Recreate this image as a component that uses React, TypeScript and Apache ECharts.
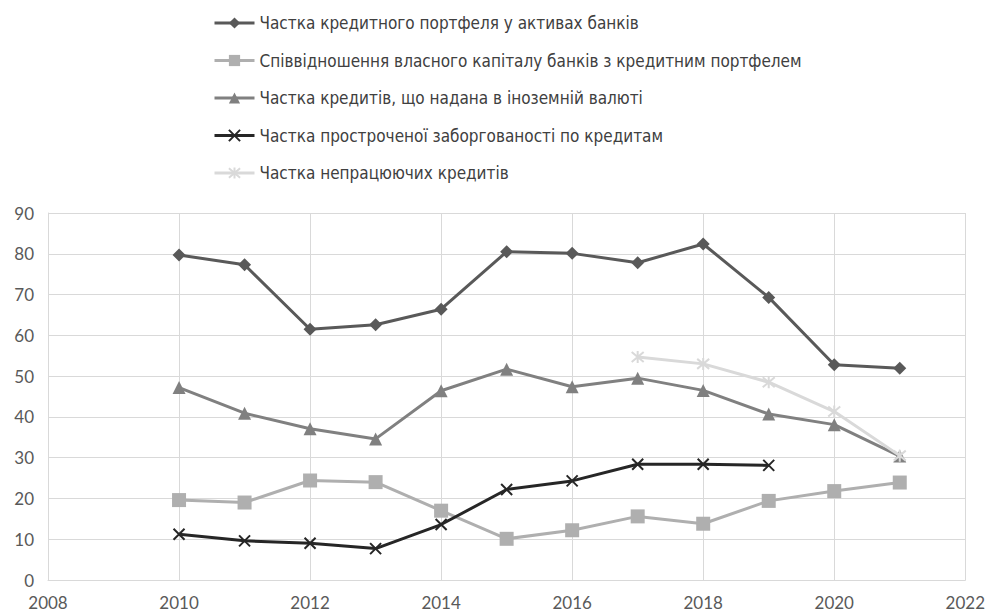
import React, { useEffect, useRef } from "react";
import * as echarts from "echarts";

const years = [2010, 2011, 2012, 2013, 2014, 2015, 2016, 2017, 2018, 2019, 2020, 2021];
const loanShare = [79.7, 77.3, 61.5, 62.6, 66.4, 80.5, 80.1, 77.8, 82.4, 69.3, 52.8, 51.9];
const capitalRatio = [19.6, 19.0, 24.4, 24.0, 17.0, 10.1, 12.2, 15.6, 13.8, 19.4, 21.8, 23.9];
const fxShare = [47.2, 40.9, 37.1, 34.6, 46.4, 51.7, 47.4, 49.5, 46.5, 40.7, 38.1, 30.4];
const overdueShare = [11.2, 9.6, 9.0, 7.7, 13.6, 22.2, 24.3, 28.4, 28.4, 28.1, null, null];
const nplShare = [null, null, null, null, null, null, null, 54.7, 53.0, 48.5, 41.3, 30.5];

const seriesNames = [
  "Частка кредитного портфеля у активах банків",
  "Співвідношення власного капіталу банків з кредитним портфелем",
  "Частка кредитів, що надана в іноземній валюті",
  "Частка простроченої заборгованості по кредитам",
  "Частка непрацюючих кредитів",
];

const xTicks = { min: 2008, max: 2022, interval: 2 };
const yTicks = { min: 0, max: 90, interval: 10 };

const pair = (vals: (number | null)[]) => years.map((y, i) => [y, vals[i]]);

export default function App() {
  const ref = useRef<HTMLDivElement>(null);
  useEffect(() => {
    if (!ref.current) return;
    const chart = echarts.init(ref.current, undefined, { renderer: "svg" });
    const font = "Lato";
    const crossPath = "path://M0,0L10,10M10,0L0,10";
    const starPath = "path://M0,0L10,10M10,0L0,10M5,-1L5,11";
    const defs = [
      { data: loanShare, color: "#595959", symbol: "diamond", size: 13, stroke: false },
      { data: capitalRatio, color: "#afafaf", symbol: "rect", size: 14, stroke: false },
      { data: fxShare, color: "#808080", symbol: "triangle", size: 13, stroke: false },
      { data: overdueShare, color: "#262626", symbol: crossPath, size: 11, stroke: true },
      { data: nplShare, color: "#d9d9d9", symbol: starPath, size: 12, stroke: true },
    ];
    chart.setOption({
      animation: false,
      backgroundColor: "#ffffff",
      legend: {
        orient: "vertical",
        left: 208,
        top: 8,
        itemWidth: 40,
        itemHeight: 14,
        itemGap: 17.5,
        lineStyle: { width: 3 },
        textStyle: {
          fontFamily: "DejaVu Sans Condensed",
          fontSize: 17,
          lineHeight: 20,
          color: "#404040",
        },
        data: seriesNames,
      },
      grid: { left: 48, right: 20, top: 213, bottom: 32, containLabel: false },
      xAxis: {
        type: "value",
        min: xTicks.min,
        max: xTicks.max,
        interval: xTicks.interval,
        axisLine: { show: true, lineStyle: { color: "#d9d9d9", width: 1 } },
        axisTick: { show: false },
        splitLine: { show: true, lineStyle: { color: "#d9d9d9", width: 1 } },
        axisLabel: {
          fontFamily: font,
          fontSize: 17,
          color: "#595959",
          margin: 14,
          formatter: (v: number) => String(v),
        },
      },
      yAxis: {
        type: "value",
        min: yTicks.min,
        max: yTicks.max,
        interval: yTicks.interval,
        axisLine: { show: true, lineStyle: { color: "#d9d9d9", width: 1 } },
        axisTick: { show: false },
        splitLine: { show: true, lineStyle: { color: "#d9d9d9", width: 1 } },
        axisLabel: { fontFamily: font, fontSize: 17, color: "#595959", margin: 14 },
      },
      series: defs.map((d, i) => ({
        name: seriesNames[i],
        type: "line",
        data: pair(d.data),
        connectNulls: false,
        symbol: d.symbol,
        symbolSize: d.size,
        showAllSymbol: true,
        lineStyle: { color: d.color, width: 3 },
        itemStyle: d.stroke
          ? { color: d.color, borderColor: d.color, borderWidth: 2 }
          : { color: d.color, borderColor: d.color, borderWidth: 0 },
        z: 2 + i,
      })),
    });
    return () => chart.dispose();
  }, []);
  return (
    <div
      ref={ref}
      style={{ position: "fixed", left: 0, top: 0, width: 988, height: 612 }}
    />
  );
}
